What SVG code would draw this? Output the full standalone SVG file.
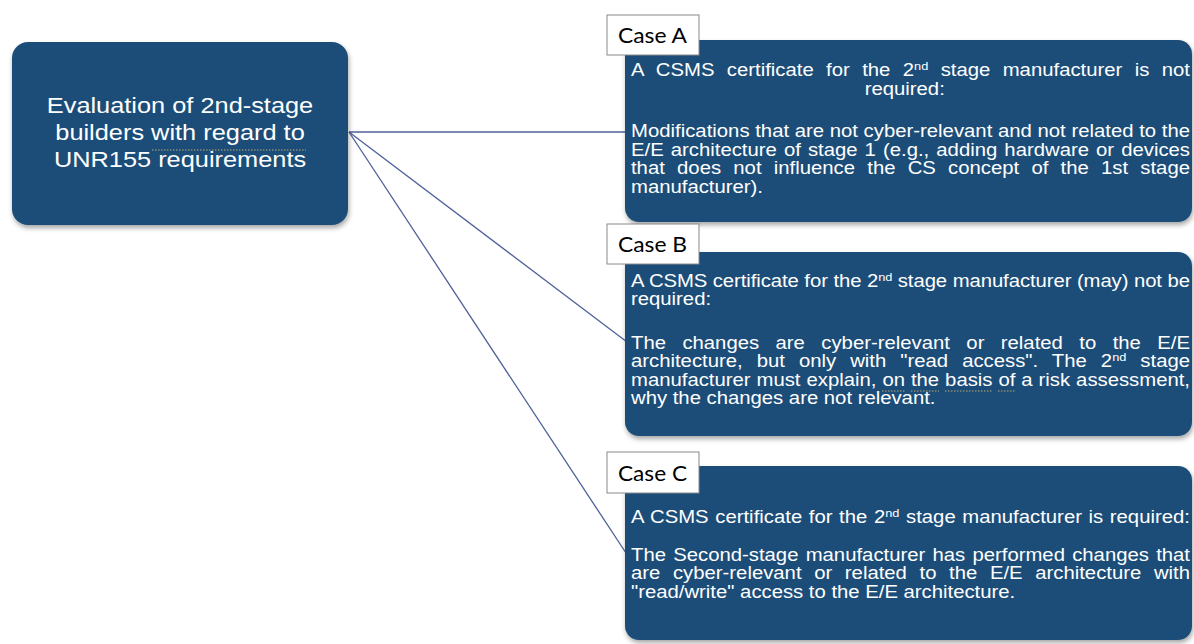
<svg xmlns="http://www.w3.org/2000/svg" width="1194" height="644" viewBox="0 0 1194 644">
  <defs>
    <filter id="shadow" x="-10%" y="-10%" width="120%" height="125%">
      <feDropShadow dx="1" dy="3" stdDeviation="2.5" flood-color="#000" flood-opacity="0.35"/>
    </filter>
  </defs>
  <style>
    .box { fill: #1F4E79; filter: url(#shadow); }
    .label { fill: #ffffff; stroke: #8a8a8a; stroke-width: 1; }
    .lbltxt { font-family: Lato, "Open Sans", "Liberation Sans", sans-serif; font-size: 21px; fill: #000; }
    .title { font-family: "Liberation Sans", Arial, sans-serif; font-size: 21.5px; fill: #fff; text-anchor: middle; }
    .body { font-family: "Liberation Sans", Arial, sans-serif; font-size: 17.5px; fill: #fff; }
    .conn { stroke: #4E6199; stroke-width: 1.3; fill: none; }
    .squig { stroke: #B9A76E; stroke-width: 1.2; stroke-dasharray: 1.5 1.5; fill: none; }
  </style>
  <rect width="1194" height="644" fill="#ffffff"/>

  <g id="connectors">
    <line class="conn" x1="349" y1="132" x2="625" y2="132"/>
    <line class="conn" x1="349" y1="132" x2="627" y2="342"/>
    <line class="conn" x1="349" y1="132" x2="626" y2="553"/>
  </g>

  <g id="root">
    <rect class="box" x="12" y="42" width="336" height="183" rx="16"/>
    <g transform="translate(180,0) scale(1.18,1)">
      <text class="title" x="0" y="113">Evaluation of 2nd-stage</text>
      <text class="title" x="0" y="140.5">builders with regard to</text>
      <text class="title" x="0" y="167.5">UNR155 requirements</text>
    </g>
    <line class="squig" x1="152" y1="150" x2="306" y2="150"/>
  </g>

  <g id="caseA">
    <rect class="box" x="625" y="40" width="567" height="182" rx="14"/>
    <g transform="translate(631,0) scale(1.16,1)">
      <text class="body" x="0" y="76" word-spacing="5.78" textLength="481.9" lengthAdjust="spacing">A CSMS certificate for the 2<tspan font-size="11" dy="-6">nd</tspan><tspan dy="6"> stage manufacturer is not</tspan></text>
      <text class="body" x="236" y="95" text-anchor="middle">required:</text>
      <text class="body" x="0" y="137.5" textLength="481.9" lengthAdjust="spacing">Modifications that are not cyber-relevant and not related to the</text>
      <text class="body" x="0" y="156" word-spacing="1.23" textLength="481.9" lengthAdjust="spacing">E/E architecture of stage 1 (e.g., adding hardware or devices</text>
      <text class="body" x="0" y="174.5" word-spacing="5.68" textLength="481.9" lengthAdjust="spacing">that does not influence the CS concept of the 1st stage</text>
      <text class="body" x="0" y="193">manufacturer).</text>
    </g>
    <rect class="label" x="607" y="15" width="92" height="40"/>
    <text class="lbltxt" x="618" y="43" textLength="69" lengthAdjust="spacingAndGlyphs">Case A</text>
  </g>

  <g id="caseB">
    <rect class="box" x="625" y="252" width="567" height="184" rx="14"/>
    <g transform="translate(631,0) scale(1.16,1)">
      <text class="body" x="0" y="287" textLength="481.9" lengthAdjust="spacing">A CSMS certificate for the 2<tspan font-size="11" dy="-6">nd</tspan><tspan dy="6"> stage manufacturer (may) not be</tspan></text>
      <text class="body" x="0" y="305.5">required:</text>
      <text class="body" x="0" y="349" word-spacing="9.29" textLength="481.9" lengthAdjust="spacing">The changes are cyber-relevant or related to the E/E</text>
      <text class="body" x="0" y="367.5" word-spacing="7.25" textLength="481.9" lengthAdjust="spacing">architecture, but only with "read access". The 2<tspan font-size="11" dy="-6">nd</tspan><tspan dy="6"> stage</tspan></text>
      <text class="body" x="0" y="386" word-spacing="0.27" textLength="481.9" lengthAdjust="spacing">manufacturer must explain, on the basis of a risk assessment,</text>
      <text class="body" x="0" y="404.5">why the changes are not relevant.</text>
    </g>
    <line class="squig" x1="882" y1="391" x2="905" y2="391"/>
    <line class="squig" x1="911" y1="391" x2="939" y2="391"/>
    <line class="squig" x1="945" y1="391" x2="992" y2="391"/>
    <line class="squig" x1="998" y1="391" x2="1015" y2="391"/>
    <rect class="label" x="607" y="224" width="92" height="40"/>
    <text class="lbltxt" x="618" y="252" textLength="69" lengthAdjust="spacingAndGlyphs">Case B</text>
  </g>

  <g id="caseC">
    <rect class="box" x="625" y="466" width="567" height="174" rx="14"/>
    <g transform="translate(631,0) scale(1.16,1)">
      <text class="body" x="0" y="523.5" word-spacing="0.81" textLength="481.9" lengthAdjust="spacing">A CSMS certificate for the 2<tspan font-size="11" dy="-6">nd</tspan><tspan dy="6"> stage manufacturer is required:</tspan></text>
      <text class="body" x="0" y="561" word-spacing="1.37" textLength="481.9" lengthAdjust="spacing">The Second-stage manufacturer has performed changes that</text>
      <text class="body" x="0" y="579.5" word-spacing="6.01" textLength="481.9" lengthAdjust="spacing">are cyber-relevant or related to the E/E architecture with</text>
      <text class="body" x="0" y="598">"read/write" access to the E/E architecture.</text>
    </g>
    <rect class="label" x="607" y="452" width="92" height="41"/>
    <text class="lbltxt" x="618" y="481" textLength="69" lengthAdjust="spacingAndGlyphs">Case C</text>
  </g>
</svg>
